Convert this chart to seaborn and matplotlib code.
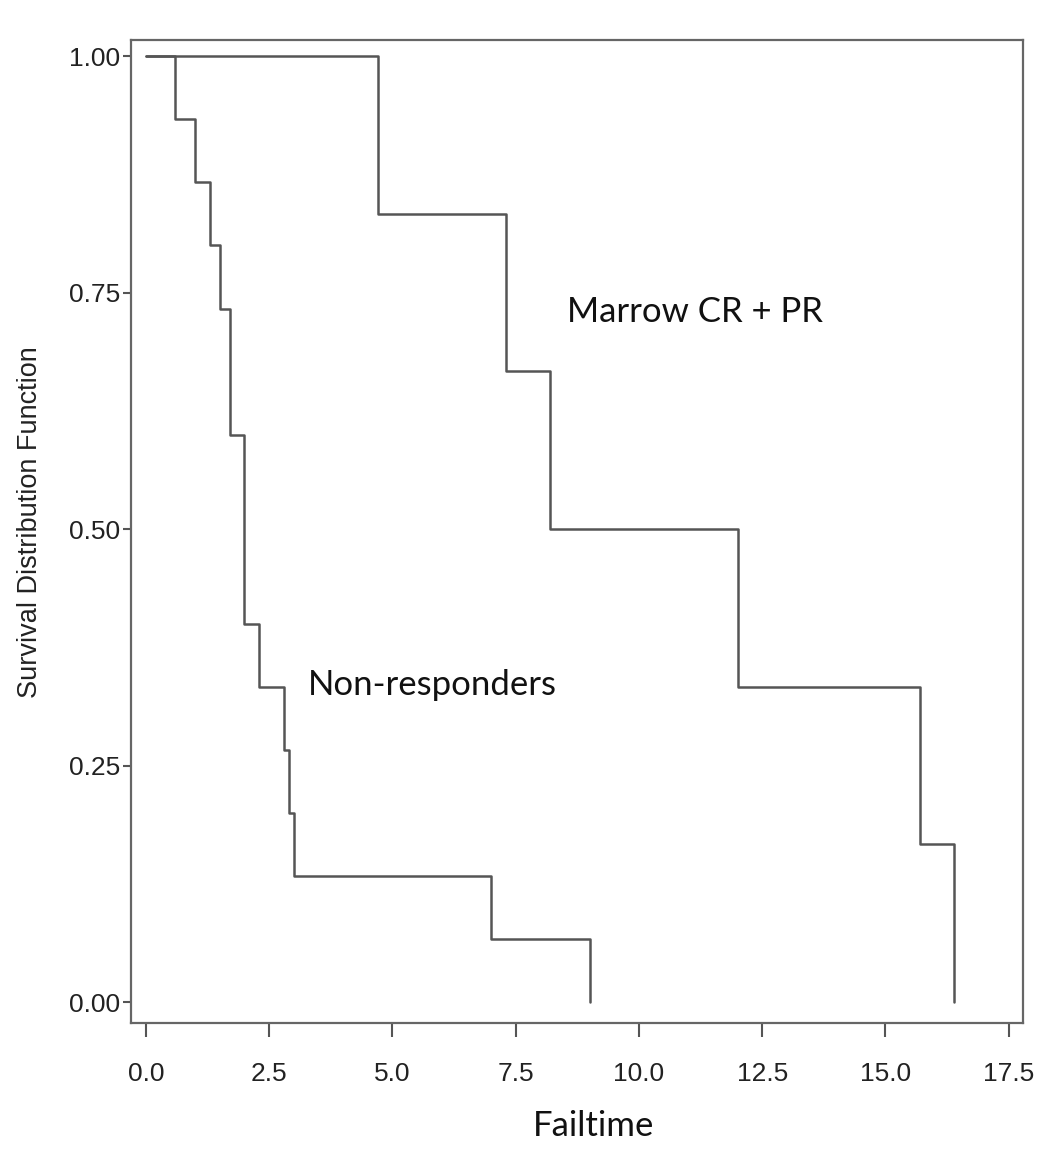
import pandas as pd
import seaborn as sns
import matplotlib.pyplot as plt

# Kaplan-Meier steps
nr_time = [0.0, 0.6, 1.0, 1.3, 1.5, 1.7, 2.0, 2.3, 2.8, 2.9, 3.0, 7.0, 9.0]
nr_surv = [1.0, 0.933, 0.867, 0.800, 0.733, 0.600, 0.400, 0.333, 0.267, 0.200, 0.133, 0.067, 0.0]
mr_time = [0.0, 4.7, 7.3, 8.2, 12.0, 15.7, 16.4]
mr_surv = [1.0, 0.833, 0.667, 0.500, 0.333, 0.167, 0.0]
groups = ["Non-responders", "Marrow CR + PR"]
x_ticks = [0.0, 2.5, 5.0, 7.5, 10.0, 12.5, 15.0, 17.5]
y_ticks = [0.00, 0.25, 0.50, 0.75, 1.00]

data = pd.concat([
    pd.DataFrame({"Failtime": nr_time, "Survival": nr_surv, "Group": groups[0]}),
    pd.DataFrame({"Failtime": mr_time, "Survival": mr_surv, "Group": groups[1]}),
])

sns.set_style("white")
plt.rcParams["font.family"] = ["Liberation Sans", "DejaVu Sans"]

fig = plt.figure(figsize=(10.61, 11.53), dpi=100)
ax = fig.add_axes([0.1235, 0.1127, 0.8407, 0.8526])

sns.lineplot(data=data, x="Failtime", y="Survival", hue="Group",
             palette=["#555555", "#555555"], estimator=None,
             drawstyle="steps-post", linewidth=1.8, legend=False, ax=ax)

ax.set_xlim(-0.30, 17.79)
ax.set_ylim(-0.022, 1.017)
ax.set_xticks(x_ticks)
ax.set_xticklabels([f"{t:.1f}" for t in x_ticks])
ax.set_yticks(y_ticks)
ax.set_yticklabels([f"{t:.2f}" for t in y_ticks])
ax.tick_params(axis="x", length=10, width=1.5, color="#555555",
               labelsize=19, labelcolor="#222222", pad=18, bottom=True)
ax.tick_params(axis="y", length=6, width=1.5, color="#555555",
               labelsize=19, labelcolor="#222222", pad=2, left=True)
for s in ax.spines.values():
    s.set_color("#666666")
    s.set_linewidth(1.6)

ax.set_ylabel("Survival Distribution Function", fontsize=19.5, color="#222222")
ax.yaxis.set_label_coords(-0.099, 0.51)
ax.set_xlabel("Failtime", fontsize=25, family=["Lato", "DejaVu Sans"], color="#111111")
ax.xaxis.set_label_coords(0.518, -0.088)

ax.text(8.54, 0.729, "Marrow CR + PR", fontsize=25, family=["Lato", "DejaVu Sans"],
        va="center", ha="left", color="#111111")
ax.text(3.29, 0.335, "Non-responders", fontsize=25, family=["Lato", "DejaVu Sans"],
        va="center", ha="left", color="#111111")

fig.savefig("out.png", dpi=100)
